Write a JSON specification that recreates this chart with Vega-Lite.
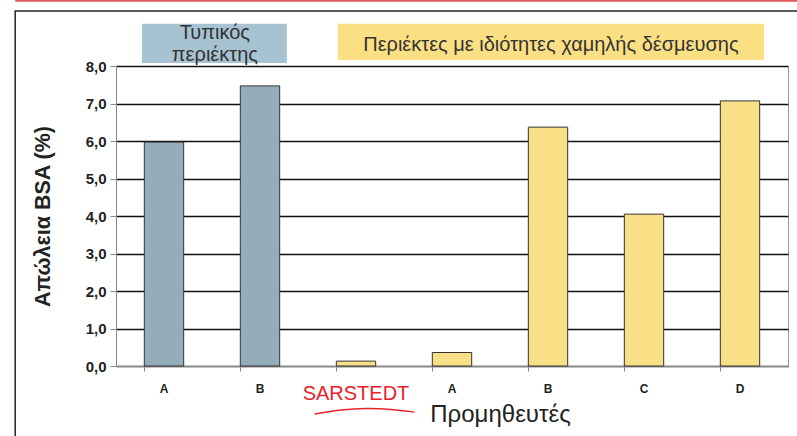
{
  "$schema": "https://vega.github.io/schema/vega-lite/v6.json",
  "width": 672,
  "height": 300,
  "autosize": {"type": "none"},
  "padding": {"left": 116, "top": 66, "right": 9, "bottom": 70},
  "background": "white",
  "config": {
    "locale": {"number": {"decimal": ",", "thousands": ".", "grouping": [3], "currency": ["", " €"]}},
    "font": "Liberation Sans",
    "view": {"stroke": "#999", "strokeWidth": 1}
  },
  "datasets": {
    "bars": [
      {"id": "A1", "group": "typ", "loss": 5.97},
      {"id": "B1", "group": "typ", "loss": 7.47},
      {"id": "S", "group": "low", "loss": 0.13},
      {"id": "A2", "group": "low", "loss": 0.36},
      {"id": "B2", "group": "low", "loss": 6.37},
      {"id": "C", "group": "low", "loss": 4.05},
      {"id": "D", "group": "low", "loss": 7.07}
    ],
    "boxes": [
      {"x1": 0.27, "x2": 1.78, "y1": 8.08, "y2": 9.13, "group": "typ"},
      {"x1": 2.31, "x2": 6.75, "y1": 8.16, "y2": 9.13, "group": "low"}
    ],
    "boxtext": [
      {"x": 1.03, "y": 8.87, "text": "Τυπικός"},
      {"x": 1.03, "y": 8.29, "text": "περιέκτης"},
      {"x": 4.53, "y": 8.57, "text": "Περιέκτες με ιδιότητες χαμηλής δέσμευσης"}
    ],
    "frame": [
      {"x1": -1.05, "x2": 7.5, "y1": -3.0, "y2": 9.47}
    ],
    "redline": [
      {"x1": -1.05, "x2": 7.5, "y": 9.74}
    ],
    "swoosh": [
      {"x": 2.07, "y": -1.28},
      {"x": 2.35, "y": -1.16},
      {"x": 2.61, "y": -1.12},
      {"x": 2.87, "y": -1.15},
      {"x": 3.11, "y": -1.23}
    ]
  },
  "layer": [
    {
      "data": {"name": "bars"},
      "mark": {"type": "bar", "stroke": "#333", "strokeWidth": 1},
      "encoding": {
        "x": {
          "field": "id", "type": "nominal", "sort": null,
          "scale": {"paddingInner": 0.59, "paddingOuter": 0.295},
          "axis": {
            "title": "Προμηθευτές",
            "titleFont": "Liberation Sans",
            "titleFontSize": 24,
            "titleFontWeight": "normal",
            "titleColor": "#222",
            "titleX": 384,
            "titleY": 55,
            "titleBaseline": "alphabetic",
            "labelAngle": 0,
            "labelExpr": "datum.value === 'S' ? 'SARSTEDT' : datum.value[0]",
            "labelColor": {"condition": {"test": "datum.value === 'S'", "value": "#e8232a"}, "value": "#222"},
            "labelFontSize": {"condition": {"test": "datum.value === 'S'", "value": 20}, "value": 12},
            "labelFontWeight": {"condition": {"test": "datum.value === 'S'", "value": "normal"}, "value": "bold"},
            "labelPadding": 12,
            "labelBaseline": "top",
            "bandPosition": 0,
            "ticks": true,
            "tickSize": 5,
            "tickColor": "#888",
            "domainColor": "#888",
            "grid": false
          }
        },
        "y": {
          "field": "loss", "type": "quantitative",
          "scale": {"domain": [0, 8], "nice": false},
          "axis": {
            "title": "Απώλεια BSA (%)",
            "titleFontSize": 21.5,
            "titleFontWeight": "bold",
            "titleColor": "#222",
            "titleX": -73,
            "titleY": 150,
            "titleAngle": -90,
            "titleAlign": "center",
            "titleBaseline": "middle",
            "values": [0, 1, 2, 3, 4, 5, 6, 7, 8],
            "labelOverlap": false,
            "format": ".1f",
            "labelFontSize": 15,
            "labelFontWeight": "bold",
            "labelColor": "#222",
            "labelPadding": 4,
            "tickSize": 6,
            "tickColor": "#888",
            "domainColor": "#888",
            "grid": true,
            "gridColor": "#111",
            "gridWidth": 1.5
          }
        },
        "color": {
          "field": "group", "type": "nominal",
          "scale": {"domain": ["typ", "low"], "range": ["#93adbb", "#f9df86"]},
          "legend": null
        }
      }
    },
    {
      "data": {"name": "frame"},
      "mark": {"type": "rect", "clip": false, "fill": null, "stroke": "#222", "strokeWidth": 1.5},
      "encoding": {
        "x": {"field": "x1", "type": "quantitative", "scale": {"domain": [0, 7], "nice": false, "zero": false}, "axis": null},
        "x2": {"field": "x2"},
        "y": {"field": "y1", "type": "quantitative", "axis": null},
        "y2": {"field": "y2"}
      }
    },
    {
      "data": {"name": "redline"},
      "mark": {"type": "rule", "clip": false, "stroke": "#e05a5a", "strokeWidth": 2},
      "encoding": {
        "x": {"field": "x1", "type": "quantitative", "scale": {"domain": [0, 7], "nice": false, "zero": false}, "axis": null},
        "x2": {"field": "x2"},
        "y": {"field": "y", "type": "quantitative", "axis": null}
      }
    },
    {
      "data": {"name": "boxes"},
      "mark": {"type": "rect", "clip": false},
      "encoding": {
        "x": {"field": "x1", "type": "quantitative", "scale": {"domain": [0, 7], "nice": false, "zero": false}, "axis": null},
        "x2": {"field": "x2"},
        "y": {"field": "y1", "type": "quantitative", "axis": null},
        "y2": {"field": "y2"},
        "color": {
          "field": "group", "type": "nominal",
          "scale": {"domain": ["typ", "low"], "range": ["#a7c3d2", "#fbe083"]},
          "legend": null
        }
      }
    },
    {
      "data": {"name": "boxtext"},
      "mark": {"type": "text", "fontSize": 20, "color": "#333", "align": "center", "baseline": "middle", "font": "Liberation Sans"},
      "encoding": {
        "x": {"field": "x", "type": "quantitative", "scale": {"domain": [0, 7], "nice": false, "zero": false}, "axis": null},
        "y": {"field": "y", "type": "quantitative", "axis": null},
        "text": {"field": "text"}
      }
    },
    {
      "data": {"name": "swoosh"},
      "mark": {"type": "line", "clip": false, "color": "#e8232a", "strokeWidth": 1.5, "interpolate": "basis"},
      "encoding": {
        "x": {"field": "x", "type": "quantitative", "scale": {"domain": [0, 7], "nice": false, "zero": false}, "axis": null},
        "y": {"field": "y", "type": "quantitative", "axis": null}
      }
    }
  ],
  "resolve": {"scale": {"x": "independent", "color": "independent"}, "axis": {"x": "independent", "y": "independent"}}
}
